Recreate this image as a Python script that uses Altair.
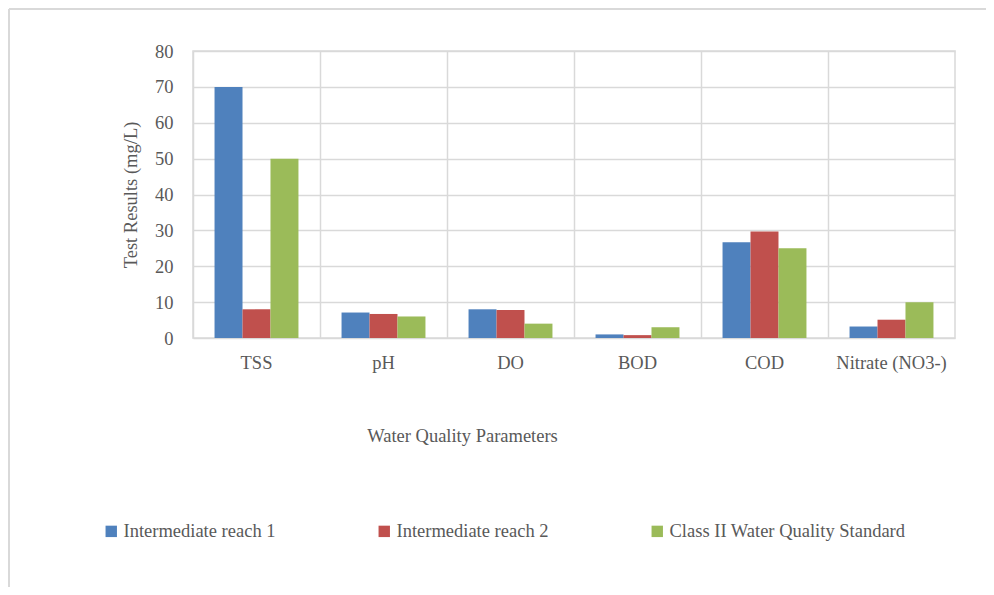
import altair as alt
import pandas as pd

categories = ["TSS", "pH", "DO", "BOD", "COD", "Nitrate (NO3-)"]
series = ["Intermediate reach 1", "Intermediate reach 2", "Class II Water Quality Standard"]
reach1 = [70, 7.1, 8.0, 1.0, 26.7, 3.2]
reach2 = [8, 6.7, 7.8, 0.8, 29.7, 5.1]
standard = [50, 6.0, 4.0, 3.0, 25, 10]
colors = ["#4f81bd", "#c0504d", "#9bbb59"]

rows = []
for s, vals in zip(series, [reach1, reach2, standard]):
    for c, v in zip(categories, vals):
        rows.append({"Parameter": c, "Series": s, "Value": v})
df = pd.DataFrame(rows)

FONT = "Liberation Serif"
TXT = "#595959"
GRID = "#d9d9d9"
FS = 18.5

W, H = 762, 287
PL, PT, PR, PB = 185, 43, 31, 249

bars = alt.Chart(df).mark_bar(strokeWidth=0).encode(
    x=alt.X("Parameter:N", sort=categories,
            scale=alt.Scale(paddingInner=0, paddingOuter=0),
            axis=alt.Axis(title="Water Quality Parameters", labelAngle=0,
                          bandPosition=0, grid=True, gridColor=GRID, gridWidth=1.5,
                          domain=False, ticks=False, labelPadding=15,
                          labelFont=FONT, labelFontSize=FS, labelColor=TXT,
                          titleFont=FONT, titleFontSize=FS, titleColor=TXT,
                          titleFontWeight="normal", titleX=269, titleY=97,
                          titleBaseline="middle")),
    xOffset=alt.XOffset("Series:N", sort=series,
                        scale=alt.Scale(paddingInner=0, paddingOuter=0.77)),
    y=alt.Y("Value:Q", scale=alt.Scale(domain=[0, 80]),
            axis=alt.Axis(title="Test Results (mg/L)", values=list(range(0, 81, 10)),
                          grid=True, gridColor=GRID, gridWidth=1.5,
                          domain=False, ticks=False, labelPadding=20,
                          labelFont=FONT, labelFontSize=FS, labelColor=TXT,
                          titleFont=FONT, titleFontSize=FS, titleColor=TXT,
                          titleFontWeight="normal", titleX=-63, titleY=H / 2,
                          titleAngle=-90, titleAlign="center", titleBaseline="middle")),
    color=alt.Color("Series:N", sort=series,
                    scale=alt.Scale(domain=series, range=colors),
                    legend=alt.Legend(title=None, orient="none", direction="horizontal",
                                      columns=3, columnPadding=99,
                                      legendX=-91, legendY=471,
                                      symbolType="square", symbolSize=130,
                                      symbolStrokeWidth=0, symbolOffset=0,
                                      labelFont=FONT, labelFontSize=FS, labelColor=TXT,
                                      labelOffset=3, labelLimit=400)),
)

frame_top = alt.Chart(df).mark_rule(color=GRID, strokeWidth=2).encode(
    x=alt.value(-184), x2=alt.value(W + PR), y=alt.value(-42))
frame_left = alt.Chart(df).mark_rule(color=GRID, strokeWidth=2).encode(
    x=alt.value(-184), y=alt.value(-42), y2=alt.value(H + PB))

chart = alt.layer(bars, frame_top, frame_left).properties(
    width=W, height=H,
    autosize=alt.AutoSizeParams(type="none"),
    padding={"left": PL, "top": PT, "right": PR, "bottom": PB},
    background="white",
).configure_view(stroke=GRID, strokeWidth=1.5)

chart.save("out.html", embed_options={"renderer": "svg", "actions": False})
